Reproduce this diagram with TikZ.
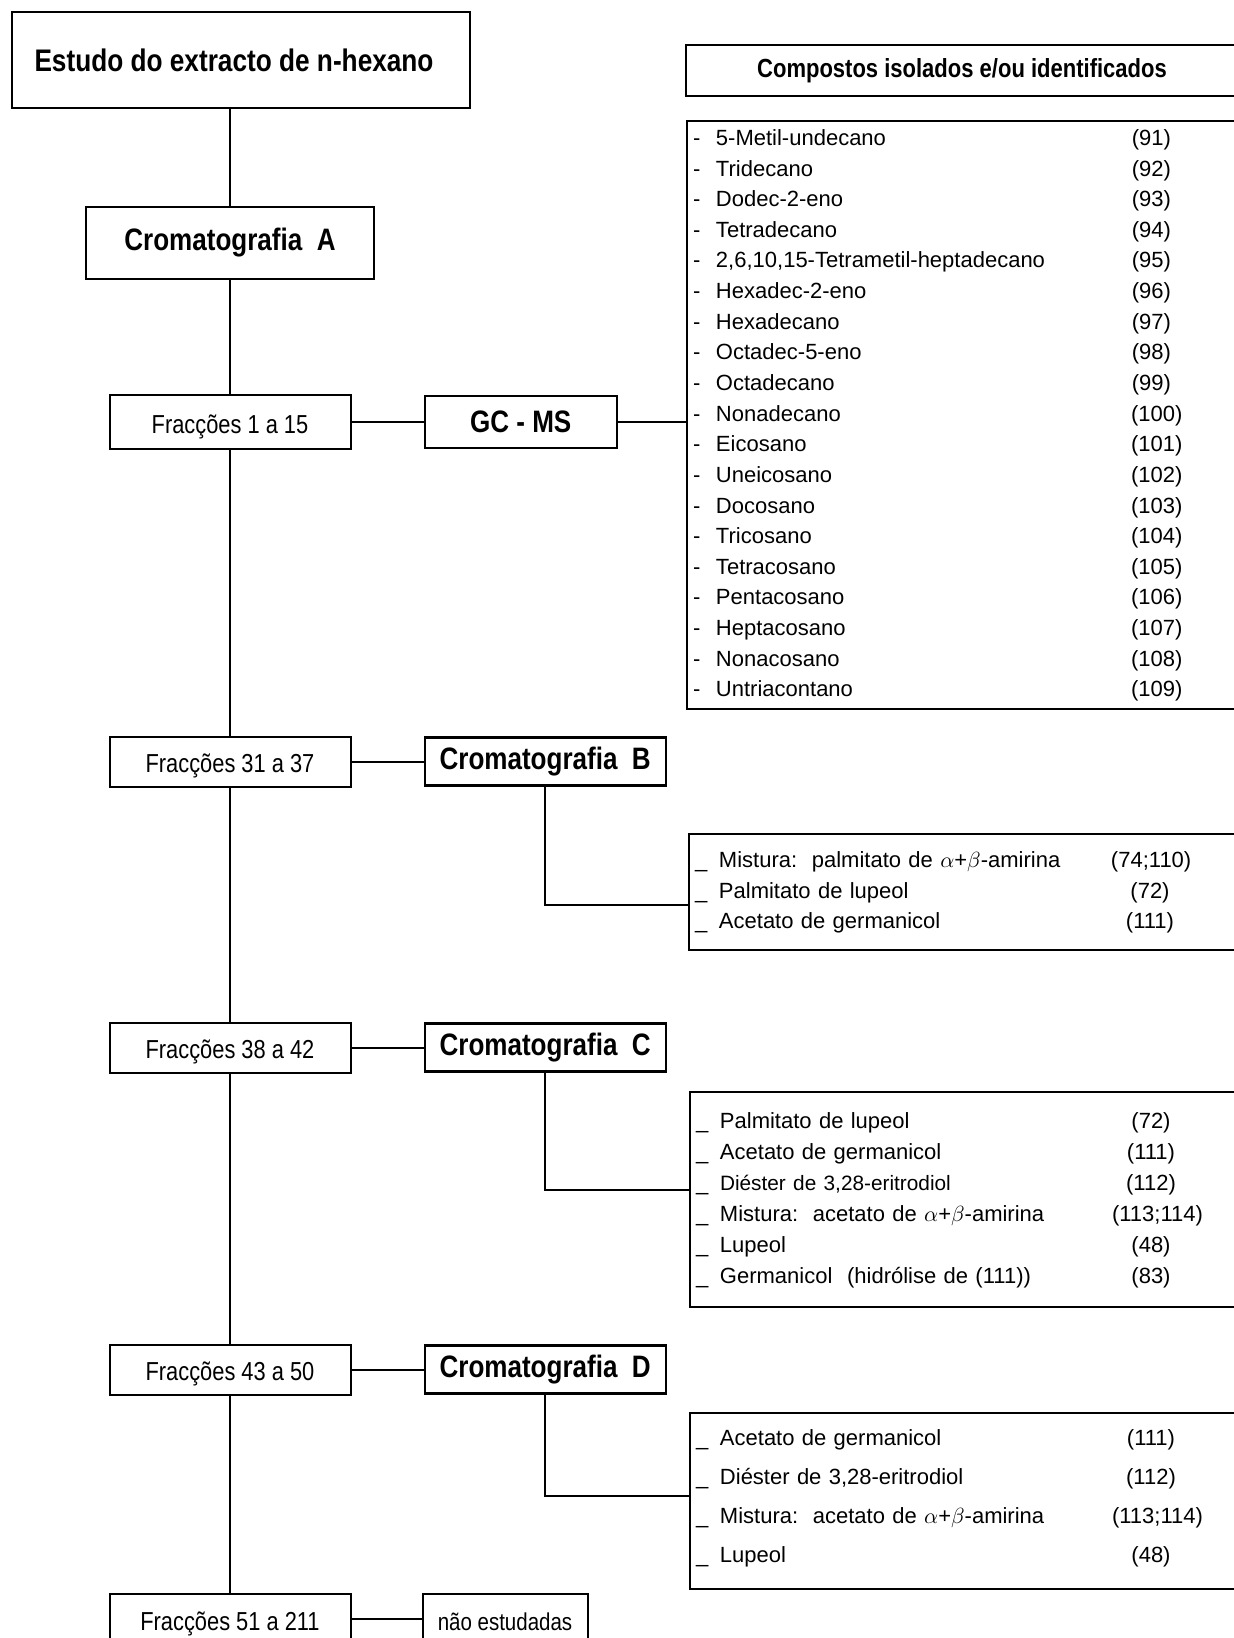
\documentclass[tikz,border=0pt]{standalone}
\usepackage{fontspec}
\setmainfont{Liberation Sans}
\newfontfamily\condensed[FakeStretch=0.84]{Liberation Sans}
\usepackage{array}
\usetikzlibrary{positioning}

\begin{document}
\begin{tikzpicture}[
    x=0.5pt, y=-0.5pt,
    node distance=36pt,
    box/.style={rectangle, draw, line width=1pt, inner sep=0pt},
    title_style/.style={box, line width=1.4pt, minimum width=229pt, minimum height=48pt,
                font=\condensed\bfseries\fontsize{15.6pt}{18pt}\selectfont},
    crom/.style={box, line width=1.2pt, minimum width=120.5pt, minimum height=24pt,
                font=\condensed\bfseries\fontsize{15.5pt}{18pt}\selectfont},
    frac/.style={box, minimum width=120.5pt, minimum height=25pt,
                text height=11pt, text depth=0pt,
                font=\condensed\fontsize{13pt}{15pt}\selectfont},
    headbox/.style={box, minimum width=276pt, minimum height=25.5pt,
                font=\condensed\bfseries\fontsize{13.1pt}{16pt}\selectfont},
    cmpd_list/.style={box, anchor=north west, text width=270pt, inner xsep=3pt,
                align=left, font=\fontsize{11pt}{15.32pt}\selectfont},
    conn/.style={line width=1pt}
]
\useasboundingbox (0,0) rectangle (1234,1638);
\clip (0,0) rectangle (1234,1638);

% main column
\node[title_style] (extract) at (241,60) {Estudo do extracto de n-hexano\hspace*{7pt}};
\node[crom, minimum width=144pt, minimum height=36pt] (cromA) at (230,243) {Cromatografia\ \ A};
\node[frac, minimum height=27pt] (fr1) at (230,422) {Fracções 1 a 15};
\node[frac] (fr2) at (230,761.5) {Fracções 31 a 37};
\node[frac] (fr3) at (230,1047.5) {Fracções 38 a 42};
\node[frac] (fr4) at (230,1369.5) {Fracções 43 a 50};
\node[frac] (fr5) at (230,1619) {Fracções 51 a 211};

% second column
\node[crom, minimum width=96pt, minimum height=26pt, right=of fr1] (gcms) {GC - MS};
\node[crom, right=of fr2] (cromB) {Cromatografia\ \ B};
\node[crom, right=of fr3] (cromC) {Cromatografia\ \ C};
\node[crom, right=of fr4] (cromD) {Cromatografia\ \ D};
\node[frac, minimum width=82.5pt, font=\condensed\fontsize{12.2pt}{14pt}\selectfont,
      right=35pt of fr5] (naoest) {não estudadas};

% compounds
\node[headbox] (compostos) at (962,70.5) {Compostos isolados e/ou identificados};

\node[cmpd_list, minimum height=294pt] (gcms_list) at (686,120) {%
\begin{tabular}{@{}p{11.5pt}@{}p{207.5pt}@{}>{\raggedleft\arraybackslash}p{20pt}@{}}
- & 5-Metil-undecano & (91)\\
- & Tridecano & (92)\\
- & Dodec-2-eno & (93)\\
- & Tetradecano & (94)\\
- & 2,6,10,15-Tetrametil-heptadecano & (95)\\
- & Hexadec-2-eno & (96)\\
- & Hexadecano & (97)\\
- & Octadec-5-eno & (98)\\
- & Octadecano & (99)\\
- & Nonadecano & (100)\\
- & Eicosano & (101)\\
- & Uneicosano & (102)\\
- & Docosano & (103)\\
- & Tricosano & (104)\\
- & Tetracosano & (105)\\
- & Pentacosano & (106)\\
- & Heptacosano & (107)\\
- & Nonacosano & (108)\\
- & Untriacontano & (109)
\end{tabular}};

\node[cmpd_list, minimum height=58pt] (listB) at (688,833) {%
\begin{tabular}{@{}p{12pt}@{}p{196pt}@{}>{\centering\arraybackslash}p{39pt}@{}}
\_ & Mistura:\ \ palmitato de $\alpha$+$\beta$-amirina & (74;110)\\
\_ & Palmitato de lupeol & (72)\\
\_ & Acetato de germanicol & (111)
\end{tabular}};

\node[cmpd_list, minimum height=107.5pt] (listC) at (689,1091) {%
\renewcommand\arraystretch{1.01}%
\begin{tabular}{@{}p{12pt}@{}p{196pt}@{}>{\centering\arraybackslash}p{39pt}@{}}
\_ & Palmitato de lupeol & (72)\\
\_ & Acetato de germanicol & (111)\\
\_ & {\fontsize{10.4pt}{12pt}\selectfont Diéster de 3,28-eritrodiol} & (112)\\
\_ & Mistura:\ \ acetato de $\alpha$+$\beta$-amirina & (113;114)\\
\_ & Lupeol & (48)\\
\_ & Germanicol\ \ (hidrólise de (111)) & (83)
\end{tabular}};

\node[cmpd_list, minimum height=88pt] (listD) at (689,1412) {%
\renewcommand\arraystretch{1.27}%
\begin{tabular}{@{}p{12pt}@{}p{196pt}@{}>{\centering\arraybackslash}p{39pt}@{}}
\_ & Acetato de germanicol & (111)\\
\_ & Diéster de 3,28-eritrodiol & (112)\\
\_ & Mistura:\ \ acetato de $\alpha$+$\beta$-amirina & (113;114)\\
\_ & Lupeol & (48)\\[5pt]
\end{tabular}};

% connectors
\draw[conn] (extract.south -| cromA.north) -- (cromA.north);
\draw[conn] (cromA.south) -- (fr1.north);
\draw[conn] (fr1.south) -- (fr2.north);
\draw[conn] (fr2.south) -- (fr3.north);
\draw[conn] (fr3.south) -- (fr4.north);
\draw[conn] (fr4.south) -- (fr5.north);

\draw[conn] (fr1.east) -- (gcms.west);
\draw[conn] (gcms.east) -- (gcms.east -| gcms_list.west);
\draw[conn] (fr2.east) -- (cromB.west);
\draw[conn] (cromB.south) |- ([yshift=-6.3pt]listB.west);
\draw[conn] (fr3.east) -- (cromC.west);
\draw[conn] (cromC.south) |- ([yshift=4.7pt]listC.west);
\draw[conn] (fr4.east) -- (cromD.west);
\draw[conn] (cromD.south) |- ([yshift=2.6pt]listD.west);
\draw[conn] (fr5.east) -- (naoest.west);
\end{tikzpicture}
\end{document}
